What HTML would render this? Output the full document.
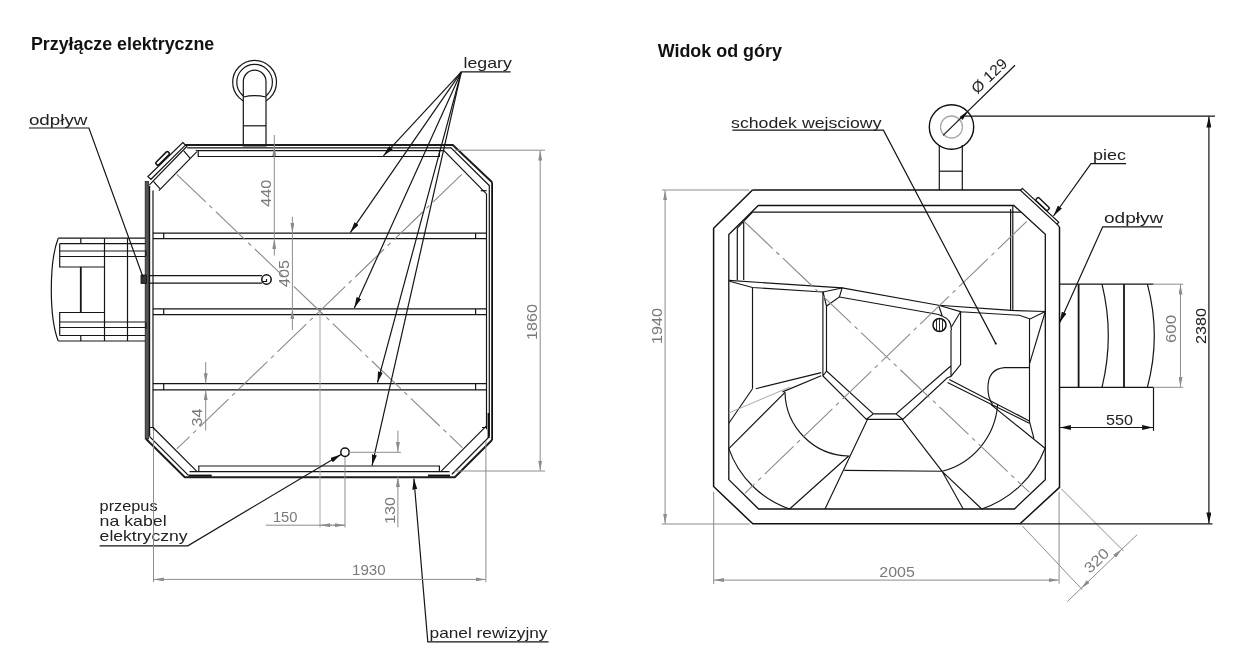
<!DOCTYPE html>
<html><head><meta charset="utf-8">
<style>
html,body{margin:0;padding:0;background:#fff;width:1249px;height:653px;overflow:hidden}
svg{display:block;will-change:transform}
.k{stroke:#111;stroke-width:1.5;fill:none}
.kt{stroke:#1c1c1c;stroke-width:2.2;fill:none}
.t{stroke:#151515;stroke-width:1.2;fill:none}
.g{stroke:#8c8c8c;stroke-width:1;fill:none}
.gl{stroke:#a8a8a8;stroke-width:1;fill:none}
.cl{stroke:#8a8a8a;stroke-width:1.1;fill:none;stroke-dasharray:40 5 4 5}
.ttl{font-family:"Liberation Sans",sans-serif;font-weight:bold;font-size:18px;fill:#111}
.lb{font-family:"Liberation Sans",sans-serif;font-size:15px;fill:#222}
.dm{font-family:"Liberation Sans",sans-serif;font-size:15px;fill:#7a7a7a}
.dk{font-family:"Liberation Sans",sans-serif;font-size:15px;fill:#222}
</style></head><body>
<svg width="1249" height="653" viewBox="0 0 1249 653">
<defs>
<marker id="ak" viewBox="0 0 11 5" refX="11" refY="2.5" markerWidth="11" markerHeight="5" markerUnits="userSpaceOnUse" orient="auto"><path d="M0,0 L11,2.5 L0,5 z" fill="#111"/></marker>
<marker id="ag" viewBox="0 0 10 4" refX="10" refY="2" markerWidth="10" markerHeight="4" markerUnits="userSpaceOnUse" orient="auto"><path d="M0,0 L10,2 L0,4 z" fill="#8c8c8c"/></marker>
<marker id="agr" viewBox="0 0 10 4" refX="0" refY="2" markerWidth="10" markerHeight="4" markerUnits="userSpaceOnUse" orient="auto"><path d="M10,0 L0,2 L10,4 z" fill="#8c8c8c"/></marker>
</defs>

<!-- ================= LEFT DRAWING ================= -->
<text class="ttl" x="30.9" y="49.9" textLength="183.3" lengthAdjust="spacingAndGlyphs">Przyłącze elektryczne</text>
<g id="left">
<!-- chimney -->
<circle cx="254.6" cy="82.2" r="21.9" class="t"/>
<circle cx="254.6" cy="82.2" r="17.8" class="t"/>
<path d="M243.3,146 V81.5 A11.35,11.35 0 0 1 266,81.5 V146 Z" class="t" style="fill:#fff"/>
<path d="M243.3,97 Q254.6,94.3 266,97" class="t"/>
<line x1="243.3" y1="125.8" x2="266" y2="125.8" class="t"/>

<!-- top structure -->
<path d="M185.2,145 H452.8 L492.1,182.3" class="kt" style="stroke-width:2"/>
<path d="M187.2,147.9 H451 L489.5,185.8" class="t"/>
<path d="M195.7,150.7 H443.9 L486.2,193.7" class="t"/>
<path d="M198.2,150.7 V156.5 H439.4 V150.7" class="t"/>
<path d="M196.7,151.9 L158.9,190.7" class="t"/>
<path d="M187.2,146 L149.4,184.8" class="t"/>
<polygon points="182.8,142.5 185.4,145.1 150.9,179.3 147.9,176.6" class="t" style="fill:#fff"/>
<path d="M183.8,150.9 L190.2,158.4 M153.4,181.3 L159.9,188.7" class="t"/>
<g transform="translate(162.8,158.6) rotate(-45)"><rect x="-8.5" y="-2.2" width="17" height="3.8" rx="1.2" class="k" style="fill:#fff;stroke-width:1.5"/></g>
<path d="M480.7,190.7 H486.7" class="t"/>

<!-- left wall -->
<rect x="145.2" y="181.5" width="3.2" height="257.5" fill="#555" stroke="#222" stroke-width="0.8"/>
<line x1="149.6" y1="185.7" x2="149.6" y2="436.6" class="t"/>
<line x1="153" y1="190.5" x2="153" y2="427.5" class="t"/>
<!-- right wall -->
<line x1="492.1" y1="182.3" x2="492.1" y2="440" class="k" style="stroke-width:1.8"/>
<line x1="489.3" y1="185.2" x2="489.3" y2="436" class="t"/>
<line x1="486.5" y1="193.5" x2="486.5" y2="429.3" class="t"/>
<line x1="488.6" y1="413" x2="488.6" y2="438" class="k" style="stroke-width:2"/>

<!-- bottom structure -->
<path d="M146.1,439 L184.8,477.2 H454.8 L492.1,440" class="kt" style="stroke-width:2"/>
<path d="M149.6,436.6 L188.4,475.4 M451.9,474.3 L489.4,436.6 M189.5,471.6 H449.5" class="t" style="stroke-width:1.3"/>
<path d="M153,427.5 L196.6,471.2 M486.7,425.6 L441.2,471.2" class="t"/>
<path d="M198.8,471.2 V466 H439.4 V471.2" class="t"/>
<path d="M149.6,427.5 H153.5 V431 M486.7,427.5 H482" class="t"/>
<line x1="188.5" y1="475.6" x2="211.7" y2="475.6" class="k" style="stroke-width:2"/>
<line x1="428" y1="475.6" x2="450" y2="475.6" class="k" style="stroke-width:2"/>

<!-- beams (legary) -->
<g class="t">
<path d="M152.9,233.2 H486.5 M152.9,238.6 H486.5 M163.7,233.2 V238.6 M475.6,233.2 V238.6"/>
<path d="M152.9,308.9 H486.5 M152.9,314.6 H486.5 M163.7,308.9 V314.6 M475.6,308.9 V314.6"/>
<path d="M152.9,383.6 H486.5 M152.9,389.8 H486.5 M163.7,383.6 V389.8 M475.6,383.6 V389.8"/>
</g>

<!-- drain pipe -->
<path d="M148.6,275.6 H262 M148.6,283.2 H262" class="t"/>
<circle cx="266.5" cy="279.5" r="4.7" class="k" style="fill:#fff"/>
<path d="M262,281.5 H266.5 V279" class="t"/>
<rect x="141" y="275" width="5.5" height="8.5" fill="#333" stroke="#111" stroke-width="0.8"/>

<!-- steps on left side -->
<g class="t">
<path d="M58.2,238.2 C49,262 49,317 58.2,341"/>
<path d="M58.2,238.2 H145.2 M58.2,341 H145.2"/>
<path d="M59.7,243.6 H145.2 M59.7,251 H145.2 M59.7,256.5 H145.2 M59.7,243.6 V267 H104 M80.8,238.2 V243.6 M104.5,238.2 V341 M127.5,238.2 V341"/><path d="M80.8,267 V312.5" style="stroke-width:1.8"/>
<path d="M59.7,335.5 H145.2 M59.7,327.5 H145.2 M59.7,322 H145.2 M59.7,335.5 V312.5 H104 M80.8,335.5 V341"/>
<path d="M146,250.4 V256.5 M146,322.4 V329.1"/>
</g>

<!-- centre lines -->
<line x1="176.8" y1="174.3" x2="462.3" y2="447.6" class="cl"/>
<line x1="461.8" y1="174.3" x2="176.8" y2="448.9" class="cl"/>
<line x1="320" y1="311" x2="320" y2="527.5" class="gl"/>

<!-- legary leaders -->
<g class="t">
<path d="M510.6,71.9 H461.3"/>
<line x1="461.3" y1="71.9" x2="383.4" y2="155.8" marker-end="url(#ak)"/>
<line x1="461.3" y1="71.9" x2="350.3" y2="232.6" marker-end="url(#ak)"/>
<line x1="461.3" y1="71.9" x2="354.3" y2="308" marker-end="url(#ak)"/>
<line x1="461.3" y1="71.9" x2="377.5" y2="382.6" marker-end="url(#ak)"/>
<line x1="461.3" y1="71.9" x2="372" y2="465.6" marker-end="url(#ak)"/>
</g>
<text class="lb" x="463.5" y="68.3" textLength="48.3" lengthAdjust="spacingAndGlyphs">legary</text>

<!-- odpływ leader -->
<path d="M29,128 H88.9 L143,277" class="t"/>
<text class="lb" x="28.9" y="124.5" textLength="58.5" lengthAdjust="spacingAndGlyphs">odpływ</text>

<!-- przepus leader -->
<path d="M99.6,545.8 H187.8 L341,454.5" class="t" marker-end="url(#ak)"/>
<circle cx="345" cy="452.3" r="4.2" class="k" style="fill:#fff"/>
<text class="lb" x="99.6" y="511" textLength="58" lengthAdjust="spacingAndGlyphs">przepus</text>
<text class="lb" x="99.6" y="525.7" textLength="67" lengthAdjust="spacingAndGlyphs">na kabel</text>
<text class="lb" x="99.6" y="541" textLength="88" lengthAdjust="spacingAndGlyphs">elektryczny</text>

<!-- panel rewizyjny leader -->
<path d="M548.6,641.8 H427.8 L413.9,478.5" class="t" marker-end="url(#ak)"/>
<text class="lb" x="429.6" y="637.6" textLength="117.9" lengthAdjust="spacingAndGlyphs">panel rewizyjny</text>

<!-- dimensions -->
<g class="g">
<!-- 1860 -->
<line x1="455" y1="150.2" x2="545" y2="150.2"/>
<line x1="454" y1="471" x2="545" y2="471"/>
<line x1="540.2" y1="160" x2="540.2" y2="150.6" marker-end="url(#ag)"/>
<line x1="540.2" y1="160" x2="540.2" y2="470.6" marker-end="url(#ag)"/>
<!-- 1930 -->
<line x1="153.5" y1="429" x2="153.5" y2="582"/>
<line x1="485.9" y1="441" x2="485.9" y2="582"/>
<line x1="300" y1="579.4" x2="153.9" y2="579.4" marker-end="url(#ag)"/>
<line x1="300" y1="579.4" x2="485.5" y2="579.4" marker-end="url(#ag)"/>
<!-- 150 -->
<line x1="345" y1="457" x2="345" y2="527.5"/>
<line x1="265.8" y1="525.2" x2="345" y2="525.2"/>
<line x1="332" y1="525.2" x2="320.4" y2="525.2" marker-end="url(#ag)"/>
<line x1="333" y1="525.2" x2="344.6" y2="525.2" marker-end="url(#ag)"/>
<!-- 130 -->
<line x1="349" y1="452.3" x2="401" y2="452.3"/>
<line x1="397.9" y1="430.6" x2="397.9" y2="452" marker-end="url(#ag)"/>
<line x1="397.9" y1="527.4" x2="397.9" y2="477" marker-end="url(#ag)"/>
<!-- 440 -->
<line x1="274.3" y1="135" x2="274.3" y2="146"/><line x1="274.3" y1="156" x2="274.3" y2="146" marker-end="url(#ag)"/>
<line x1="274.3" y1="255.6" x2="274.3" y2="239" marker-end="url(#ag)"/>
<line x1="274.3" y1="146" x2="274.3" y2="239"/>
<!-- 405 -->
<line x1="292.4" y1="216.7" x2="292.4" y2="233" marker-end="url(#ag)"/>
<line x1="292.4" y1="330" x2="292.4" y2="309.2" marker-end="url(#ag)"/>
<line x1="292.4" y1="233" x2="292.4" y2="309"/>
<!-- 34 -->
<line x1="205.7" y1="362" x2="205.7" y2="383.3" marker-end="url(#ag)"/>
<line x1="205.7" y1="430.5" x2="205.7" y2="390.2" marker-end="url(#ag)"/>
</g>
<text class="dm" transform="translate(270.5,206.7) rotate(-90)" textLength="27" lengthAdjust="spacingAndGlyphs">440</text>
<text class="dm" transform="translate(289,287) rotate(-90)" textLength="27" lengthAdjust="spacingAndGlyphs">405</text>
<text class="dm" transform="translate(201.5,426.5) rotate(-90)" textLength="18" lengthAdjust="spacingAndGlyphs">34</text>
<text class="dm" transform="translate(537,340) rotate(-90)" textLength="36" lengthAdjust="spacingAndGlyphs">1860</text>
<text class="dm" transform="translate(394.5,524) rotate(-90)" textLength="27" lengthAdjust="spacingAndGlyphs">130</text>
<text class="dm" x="272.9" y="522" textLength="24.6" lengthAdjust="spacingAndGlyphs">150</text>
<text class="dm" x="352" y="575" textLength="33.6" lengthAdjust="spacingAndGlyphs">1930</text>

</g>

<!-- ================= RIGHT DRAWING ================= -->
<text class="ttl" x="657.7" y="57.3" textLength="124.2" lengthAdjust="spacingAndGlyphs">Widok od góry</text>
<g id="right">
<!-- chimney -->
<line x1="939.3" y1="145" x2="939.3" y2="190" class="t"/>
<line x1="962.3" y1="145" x2="962.3" y2="190" class="t"/>
<line x1="939.2" y1="171.2" x2="962.1" y2="171.2" class="t"/>
<circle cx="951.5" cy="127" r="22.2" class="k" style="stroke-width:1.4"/>
<circle cx="951.5" cy="127" r="11" class="gl" style="stroke-width:1.3"/>
<line x1="943.1" y1="135.4" x2="1015" y2="65.2" class="t"/>
<polygon points="968.3,110.8 959.6,117 962.6,119.9" fill="#111"/>
<line x1="964.6" y1="116.1" x2="1215" y2="116.1" class="t"/>
<text class="dk" transform="translate(977.3,94.5) rotate(-44)" textLength="43" lengthAdjust="spacingAndGlyphs">Ø 129</text>

<!-- outer shell -->
<path d="M752.5,190 H1021.2 M1059.5,227 V487.4 L1020,523.8 H752.8 L713.6,486.5 V228.2 L752.5,190" class="k" style="stroke-width:1.5"/>
<polygon points="1022.4,188.4 1058.8,222.2 1057,224.2 1020.6,190.4" class="t" style="fill:#fff"/>
<path d="M1057,224.2 L1059.5,227" class="t"/>
<g transform="translate(1042.2,204.5) rotate(43.5)"><rect x="-8" y="-2.6" width="16" height="4" rx="1" class="k" style="fill:#fff;stroke-width:1.4"/></g>
<!-- inner shell -->
<path d="M758.3,205.5 H1013.9 L1045.3,234.3 V479.6 L1014.4,509 H758.6 L728.8,479.6 V234.6 Z" class="k" style="stroke-width:1.3"/>
<path d="M737.3,280 V228.2 L752.5,212.2 H1021" class="t"/>
<path d="M743.7,221 V280" class="t"/>
<path d="M1010.6,209 V310.4 M1012.8,205.5 V310.4" class="t"/>

<!-- interior -->
<g class="t" style="stroke-width:1.15">
<path d="M729,280.4 L842.1,287.9 L938.6,305.3 L1011.2,310.4 L1045.3,311.5"/>
<path d="M729.5,281.2 L752.5,287.5 L823,292 L842.1,287.9 L839.4,297 L826.3,306.2 M822.9,291.5 L826.5,306"/>
<path d="M839.4,297 L938.6,314.5 L942.3,316.3 M938.6,305.3 L942.3,316.3"/>
<path d="M938.6,305.3 L960.6,311.7 L951.4,327 M960.6,311.7 L1019.4,315.3 L1030.1,319 L1045.3,311.5"/>
<path d="M752.5,287.5 V388.7"/>
<path d="M822.9,291.5 V376 L866.4,419.3 H902.7 L947.1,378 L951,376.4 V330 M826.5,306 V371 L873.4,413.9 H896 L949.3,367.3 L951,366 M960.6,311.7 V364.6 L951,376.4 M866.4,419.3 L873.4,413.9 M902.7,419.3 L896,413.9 M822.9,376 L826.5,371"/>
<path d="M942.3,316.3 Q951.4,319 951.4,330"/>
<path d="M1029.5,319 V420.9 M1045.3,311.5 L1029.5,363.9"/>
<path d="M1029.5,367.6 H1004.5 Q988,369 987.9,387.8 Q988,398 992.5,404.4"/>
<path d="M867.2,419.9 L825,509 M902.5,419.9 L942.1,471.3 L963.2,509 M942.1,471.3 L981.7,509 M844.3,470.4 L942.1,471.3"/>
<path d="M752.5,388.7 L728.8,423.3 M755.8,388.7 L821.2,372.6 M782.6,391.9 L821.2,375.8 M728.8,448.6 L785,392.3"/>
<path d="M785,392.3 A65,65 0 0 0 848.7,456 L789.6,509 M728.8,448.6 A98.6,98.6 0 0 0 789.6,509"/>
<path d="M949.3,379.5 L1029.3,420.9 M947.5,382.5 L1029.3,423.3 M990.7,404.4 L1045.3,448.5 M1029.3,420.9 L1033.9,438.4"/>
<path d="M942.1,471.3 A74.5,74.5 0 0 0 997.6,405"/>
<path d="M981.7,509 A102.4,102.4 0 0 0 1044.9,448.5"/>
</g>
<line x1="728.8" y1="413" x2="790" y2="387" class="gl"/>
<circle cx="939.5" cy="325" r="6.5" class="k" style="fill:#fff;stroke-width:1.5"/>
<path d="M936.5,319.5 V330.5 M939.5,318.8 V331.2 M942.5,319.5 V330.5" class="t" style="stroke-width:0.9"/>
<circle cx="995.8" cy="343.6" r="1.1" fill="#222"/>

<!-- centre lines -->
<line x1="743.7" y1="221" x2="1029.3" y2="492.2" class="cl"/>
<line x1="1026.7" y1="221.4" x2="744.8" y2="493.4" class="cl"/>

<!-- step on right -->
<g class="t">
<path d="M1059.5,284.2 H1153.5 M1059.5,387.3 H1153.5"/>
<path d="M1078.6,284.2 V387.3 M1124,284.2 V387.3" style="stroke-width:1.8"/>
<path d="M1102,284.2 Q1114.6,335.7 1102,387.3 M1147.4,284.2 Q1161.2,335.7 1147.4,387.3"/>
<path d="M1153.5,387.3 V430.8"/>
<line x1="1106" y1="427.5" x2="1059.9" y2="427.5" marker-end="url(#ak)"/>
<line x1="1106" y1="427.5" x2="1153.1" y2="427.5" marker-end="url(#ak)"/>
</g>
<text class="dk" x="1106" y="424.7" textLength="27" lengthAdjust="spacingAndGlyphs">550</text>

<!-- labels -->
<path d="M732.4,130.2 H883.4 L995.8,343.6" class="t"/>
<text class="lb" x="731.1" y="127.6" textLength="150.4" lengthAdjust="spacingAndGlyphs">schodek wejsciowy</text>
<path d="M1126.1,163.6 H1091 L1053.5,216" class="t" marker-end="url(#ak)"/>
<text class="lb" x="1093" y="160" textLength="33" lengthAdjust="spacingAndGlyphs">piec</text>
<path d="M1162,226.8 H1102.7 L1059.6,322.8" class="t" marker-end="url(#ak)"/>
<text class="lb" x="1104" y="222.6" textLength="59.4" lengthAdjust="spacingAndGlyphs">odpływ</text>

<!-- dimensions -->
<g class="g">
<path d="M662,190 H749.3 M661.8,524 H749.7"/>
<line x1="665.1" y1="300" x2="665.1" y2="190.4" marker-end="url(#ag)"/>
<line x1="665.1" y1="300" x2="665.1" y2="523.6" marker-end="url(#ag)"/>
<path d="M713.7,492 V584 M1059.1,492 V583.7"/>
<line x1="880" y1="580.1" x2="714.1" y2="580.1" marker-end="url(#ag)"/>
<line x1="880" y1="580.1" x2="1058.7" y2="580.1" marker-end="url(#ag)"/>
<path d="M1153.5,284.2 H1183.2 M1153.5,387.3 H1183.2"/>
<line x1="1180.5" y1="330" x2="1180.5" y2="284.6" marker-end="url(#ag)"/>
<line x1="1180.5" y1="330" x2="1180.5" y2="386.9" marker-end="url(#ag)"/>
<path d="M1022.3,525.9 L1082.2,589.6 M1061.4,488.9 L1123.6,551.1"/>
<line x1="1101" y1="569.3" x2="1081.1" y2="588.4" marker-end="url(#ag)"/>
<line x1="1101" y1="569.3" x2="1121.8" y2="549.3" marker-end="url(#ag)"/>
<path d="M1067.4,601.5 L1081.1,588.4 M1121.8,549.3 L1137,534.8"/>
</g>
<path d="M1020,523.8 H1212.5" class="t"/>
<line x1="1208.9" y1="300" x2="1208.9" y2="116.5" class="t" marker-end="url(#ak)"/>
<line x1="1208.9" y1="300" x2="1208.9" y2="523.4" class="t" marker-end="url(#ak)"/>
<text class="dm" transform="translate(661.5,344) rotate(-90)" textLength="36" lengthAdjust="spacingAndGlyphs">1940</text>
<text class="dm" x="879.3" y="577.2" textLength="35.5" lengthAdjust="spacingAndGlyphs">2005</text>
<text class="dm" transform="translate(1176,343) rotate(-90)" textLength="28" lengthAdjust="spacingAndGlyphs">600</text>
<text class="dk" transform="translate(1206,344) rotate(-90)" textLength="36" lengthAdjust="spacingAndGlyphs">2380</text>
<text class="dm" transform="translate(1090,574) rotate(-44)" textLength="28" lengthAdjust="spacingAndGlyphs">320</text>

</g>
</svg>
</body></html>
